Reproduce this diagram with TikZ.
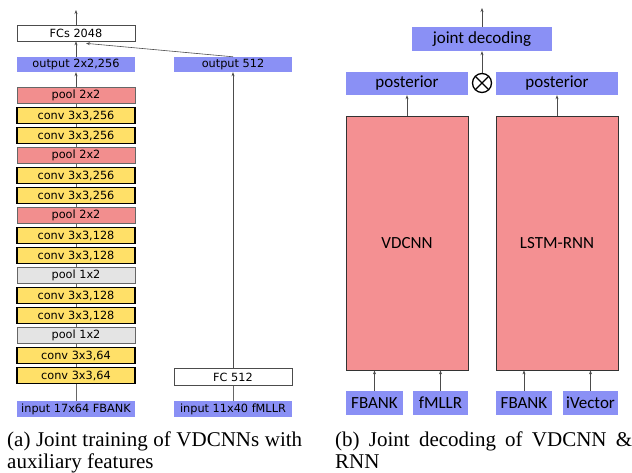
\documentclass[tikz,border=0pt]{standalone}
\usepackage{fontspec}
\setmainfont{Liberation Serif}
\newfontfamily\layerfont{DejaVu Sans}
\newfontfamily\boxfont{Carlito}
\usetikzlibrary{arrows.meta,backgrounds}

\definecolor{inblue}{RGB}{138,144,245}
\definecolor{poolred}{RGB}{242,142,142}
\definecolor{bigred}{RGB}{244,144,146}
\definecolor{convyel}{RGB}{255,224,104}
\definecolor{poolgrey}{RGB}{228,228,228}

\tikzset{
  arr/.style={-{Stealth[length=4pt,width=3pt]}, black!70, line width=0.6pt},
  lin/.style={black!60, line width=0.6pt},
  layer/.style={minimum width=118pt, minimum height=16pt, inner sep=0pt,
    font=\layerfont\fontsize{11.3}{13}\selectfont},
  pinkpool/.style={layer, draw=black!60, fill=poolred},
  greypool/.style={layer, draw=black!60, fill=poolgrey},
  convbox/.style={layer, draw=black, line width=1.8pt, fill=convyel},
  bluebox/.style={layer, minimum height=15pt, fill=inblue},
  whitebox/.style={layer, draw=black!70, line width=0.7pt, fill=white},
  bigbox/.style={draw=black!80, line width=0.8pt, fill=bigred, minimum width=122pt,
    minimum height=254pt, inner sep=0pt, font=\boxfont\fontsize{17}{19}\selectfont},
  featbox/.style={fill=inblue, minimum height=24pt, inner sep=0pt,
    font=\boxfont\fontsize{17}{19}\selectfont},
  capline/.style={inner sep=0pt, font=\fontsize{21}{25}\selectfont},
}

\begin{document}
\begin{tikzpicture}[x=1pt,y=-1pt]
\useasboundingbox (0,0) rectangle (632,473);

% (a) stacked VDCNN layers
\node[whitebox] (fcs) at (76,33) {FCs 2048};
\node[bluebox] (out1) at (76,64.5) {output 2x2,256};
\node[bluebox] (out2) at (233,64.5) {output 512};
\foreach \i/\kind/\txt in {1/pinkpool/{pool 2x2},2/convbox/{conv 3x3,256},3/convbox/{conv 3x3,256},
    4/pinkpool/{pool 2x2},5/convbox/{conv 3x3,256},6/convbox/{conv 3x3,256},
    7/pinkpool/{pool 2x2},8/convbox/{conv 3x3,128},9/convbox/{conv 3x3,128},
    10/greypool/{pool 1x2},11/convbox/{conv 3x3,128},12/convbox/{conv 3x3,128},
    13/greypool/{pool 1x2},14/convbox/{conv 3x3,64},15/convbox/{conv 3x3,64}}
  \node[\kind] (l\i) at (76,{95.5+20*(\i-1)}) {\txt};
\node[whitebox, minimum height=17pt] (fc512) at (233,377) {FC 512};
\node[bluebox, minimum height=16pt] (in1) at (76,409) {input 17x64 FBANK};
\node[bluebox, minimum height=16pt] (in2) at (233,409) {input 11x40 fMLLR};
\coordinate (topa) at (76,10);

\begin{scope}[on background layer]
  \draw[lin] (in1.north) -- (l15.south);
  \draw[arr] (l1.north) -- (out1.south);
  \foreach \i [evaluate=\i as \j using int(\i+1)] in {1,...,14}
    \draw[lin] (l\i.south) -- (l\j.north);
\end{scope}
\draw[arr] (out1.north) -- (fcs.south);
\draw[arr] (fcs.north) -- (topa);
\draw[arr] (out2.north) -- ([xshift=10pt,yshift=-2pt]fcs.south);
\draw[arr] (fc512.north) -- (out2.south);
\draw[lin] (in2.north) -- (fc512.south);

% (b) joint decoding
\node[featbox, minimum width=140pt] (joint) at (482,39) {joint decoding};
\node[featbox, minimum width=122pt, minimum height=23pt] (post1) at (407,83.5) {posterior};
\node[featbox, minimum width=122pt, minimum height=23pt] (post2) at (557,83.5) {posterior};
\node[circle, draw, line width=1.3pt, minimum size=19pt, inner sep=0pt,
  path picture={\draw[line width=1.3pt] (path picture bounding box.north west) -- (path picture bounding box.south east)
    (path picture bounding box.north east) -- (path picture bounding box.south west);}] (prod) at (482,83) {};
\node[bigbox] (vdcnn) at (407,243) {VDCNN};
\node[bigbox] (lstm) at (557,243) {LSTM-RNN};
\node[featbox, minimum width=57pt] (fb1) at (374.5,403) {FBANK};
\node[featbox, minimum width=55pt] (fm) at (440.5,403) {fMLLR};
\node[featbox, minimum width=56pt] (fb2) at (524,403) {FBANK};
\node[featbox, minimum width=55pt] (iv) at (590.5,403) {iVector};
\coordinate (topb) at (482,8);

\draw[arr] (joint.north) -- (topb);
\draw[arr] (prod.north) -- (joint.south);
\draw[arr] (vdcnn.north -| post1.south) -- (post1.south);
\draw[arr] (lstm.north -| post2.south) -- (post2.south);
\foreach \f/\b in {fb1/vdcnn,fm/vdcnn,fb2/lstm,iv/lstm}
  \draw[arr] (\f.north) -- (\f.north |- \b.south);

% captions
\node[capline, anchor=base west] (capa1) at (7,446) {\makebox[295pt][s]{(a) Joint training of VDCNNs with}};
\node[capline, anchor=base west] (capa2) at (7,468) {auxiliary features};
\node[capline, anchor=base west] (capb1) at (335,446) {\makebox[297pt][s]{(b) Joint decoding of VDCNN \&}};
\node[capline, anchor=base west] (capb2) at (335,468) {RNN};
\end{tikzpicture}
\end{document}
